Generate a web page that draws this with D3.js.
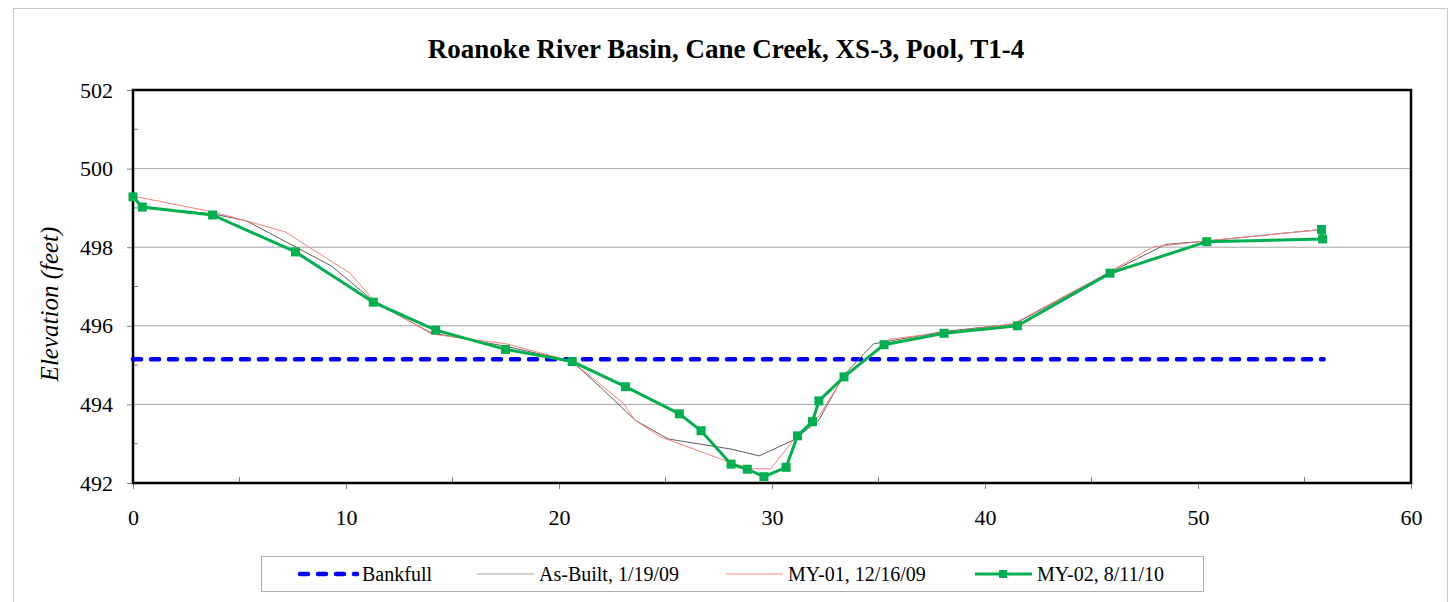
<!DOCTYPE html>
<meta charset="utf-8">
<script src="https://cdn.jsdelivr.net/npm/d3@7"></script>
<style>
  body { margin: 0; background: #fff; }
  text { font-family: "Liberation Serif", "Times New Roman", serif; fill: #000; }
</style>
<div id="chart"></div>
<script>
// ---- data ----
var title = "Roanoke River Basin, Cane Creek, XS-3, Pool, T1-4";
var xTicks = [0, 10, 20, 30, 40, 50, 60];
var yTicks = [492, 494, 496, 498, 500, 502];

var bankfullX = [0, 55.9];
var bankfullY = [495.15, 495.15];

var asBuiltX = [0, 0.4, 3.74, 5.33, 9.32, 11.4, 14.0, 17.5, 20.6, 22.08, 23.57, 25.13, 28.11, 29.4, 31.0, 32.2, 33.38, 34.76, 38.0, 41.4, 45.87, 48.48, 50.41, 55.8];
var asBuiltY = [499.28, 499.0, 498.85, 498.67, 497.52, 496.58, 495.82, 495.48, 495.1, 494.37, 493.6, 493.12, 492.86, 492.69, 493.09, 493.6, 494.75, 495.54, 495.85, 496.05, 497.36, 498.07, 498.16, 498.45];

var my01X = [0, 3.74, 5.33, 7.14, 10.19, 11.28, 14.02, 17.54, 20.6, 23.02, 23.57, 24.74, 27.95, 29.05, 29.94, 31.0, 32.2, 33.38, 35.54, 41.33, 45.87, 47.9, 50.41, 55.8];
var my01Y = [499.3, 498.9, 498.67, 498.39, 497.34, 496.66, 495.79, 495.54, 495.1, 494.03, 493.6, 493.18, 492.54, 492.36, 492.36, 493.09, 493.7, 494.72, 495.66, 496.05, 497.38, 498.01, 498.16, 498.45];

var my02X = [0, 0.44, 3.74, 7.63, 11.28, 14.21, 17.49, 20.62, 23.12, 25.65, 26.67, 28.08, 28.84, 29.62, 30.66, 31.2, 31.9, 32.2, 33.38, 35.26, 38.08, 41.52, 45.87, 50.41, 55.85, 55.8];
var my02Y = [499.28, 499.02, 498.82, 497.88, 496.6, 495.89, 495.4, 495.09, 494.45, 493.76, 493.33, 492.48, 492.35, 492.16, 492.4, 493.2, 493.56, 494.09, 494.7, 495.52, 495.81, 496.0, 497.34, 498.14, 498.21, 498.45];

var seriesNames = ["Bankfull", "As-Built, 1/19/09", "MY-01, 12/16/09", "MY-02, 8/11/10"];

// ---- layout ----
var W = 1456, H = 602;
var margin = {top: 90, right: 45, bottom: 119, left: 133};
var width = W - margin.left - margin.right,
    height = H - margin.top - margin.bottom;

var svg = d3.select("#chart").append("svg")
    .attr("width", W).attr("height", H);

// outer chart border
svg.append("rect")
    .attr("x", 13.5).attr("y", 8.5)
    .attr("width", 1434).attr("height", 610)
    .attr("fill", "#fff").attr("stroke", "#c8c8c8");

svg.append("text")
    .attr("x", 726).attr("y", 58)
    .attr("text-anchor", "middle")
    .style("font-size", "27px").style("font-weight", "bold")
    .text(title);

var g = svg.append("g")
    .attr("transform", "translate(" + margin.left + "," + margin.top + ")");

var x = d3.scaleLinear().domain([0, 60]).range([0, width]);
var y = d3.scaleLinear().domain([492, 502]).range([height, 0]);

// gridlines
g.selectAll(".grid").data(yTicks.slice(1, -1)).enter().append("line")
    .attr("x1", 0).attr("x2", width)
    .attr("y1", function(d) { return y(d); }).attr("y2", function(d) { return y(d); })
    .attr("stroke", "#a6a6a6").attr("stroke-width", 1);

// minor ticks (inside)
var yMinor = d3.range(493, 502, 2);
g.selectAll(".ymin").data(yMinor).enter().append("line")
    .attr("x1", 0).attr("x2", 5)
    .attr("y1", function(d) { return y(d); }).attr("y2", function(d) { return y(d); })
    .attr("stroke", "#808080");
var xMinor = d3.range(5, 60, 10);
g.selectAll(".xmin").data(xMinor).enter().append("line")
    .attr("x1", function(d) { return x(d); }).attr("x2", function(d) { return x(d); })
    .attr("y1", height - 6).attr("y2", height)
    .attr("stroke", "#808080");

// axes
var yAxis = g.append("g")
    .call(d3.axisLeft(y).tickValues(yTicks).tickSize(6).tickSizeOuter(0).tickPadding(14));
var xAxis = g.append("g")
    .attr("transform", "translate(0," + height + ")")
    .call(d3.axisBottom(x).tickValues(xTicks).tickSize(6).tickSizeOuter(0).tickPadding(20));
[yAxis, xAxis].forEach(function(a) {
  a.select(".domain").remove();
  a.selectAll(".tick line").attr("stroke", "#808080");
  a.selectAll("text").style("font-size", "22px")
    .style("font-family", "'Liberation Serif', 'Times New Roman', serif");
});

// frame
g.append("rect")
    .attr("x", 0).attr("y", 0).attr("width", width).attr("height", height)
    .attr("fill", "none").attr("stroke", "#000").attr("stroke-width", 2.5);

// y label
svg.append("text")
    .attr("transform", "translate(58,304) rotate(-90)")
    .attr("text-anchor", "middle")
    .style("font-size", "25px").style("font-style", "italic")
    .text("Elevation (feet)");

var line = d3.line().x(function(d) { return x(d[0]); }).y(function(d) { return y(d[1]); });
function pairs(xs, ys) { return xs.map(function(v, i) { return [v, ys[i]]; }); }

g.append("path").datum(pairs(bankfullX, bankfullY))
    .attr("d", line).attr("fill", "none")
    .attr("stroke", "#0000ff").attr("stroke-width", 4.5)
    .attr("stroke-dasharray", "8,10").attr("stroke-linecap", "round");

g.append("path").datum(pairs(asBuiltX, asBuiltY))
    .attr("d", line).attr("fill", "none")
    .attr("stroke", "#606060").attr("stroke-width", 1);

g.append("path").datum(pairs(my01X, my01Y))
    .attr("d", line).attr("fill", "none")
    .attr("stroke", "#ff7f7f").attr("stroke-width", 1);

var my02 = pairs(my02X, my02Y);
g.append("path").datum(my02)
    .attr("d", line).attr("fill", "none")
    .attr("stroke", "#00b050").attr("stroke-width", 3);
g.selectAll(".mk").data(my02).enter().append("rect")
    .attr("x", function(d) { return x(d[0]) - 4.5; })
    .attr("y", function(d) { return y(d[1]) - 4.5; })
    .attr("width", 9).attr("height", 9)
    .attr("fill", "#00b050");

// legend
var legend = svg.append("g");
legend.append("rect")
    .attr("x", 261.5).attr("y", 556.5).attr("width", 942).attr("height", 35)
    .attr("fill", "#fff").attr("stroke", "#b0b0b0");
var legX = [300, 477, 726, 975];
var legStyles = [
  {stroke: "#0000ff", w: 4.5, dash: "8,10", cap: "round"},
  {stroke: "#a0a0a0", w: 1},
  {stroke: "#ffb0b0", w: 1.5},
  {stroke: "#00b050", w: 3, marker: true}
];
seriesNames.forEach(function(name, i) {
  var s = legStyles[i];
  var l = legend.append("line")
      .attr("x1", legX[i]).attr("x2", legX[i] + 57)
      .attr("y1", 574).attr("y2", 574)
      .attr("stroke", s.stroke).attr("stroke-width", s.w);
  if (s.dash) l.attr("stroke-dasharray", s.dash).attr("stroke-linecap", s.cap);
  if (s.marker) {
    legend.append("rect").attr("x", legX[i] + 24).attr("y", 570)
      .attr("width", 8).attr("height", 8).attr("fill", "#00b050");
  }
  legend.append("text")
      .attr("x", legX[i] + 62).attr("y", 581)
      .style("font-size", "20px")
      .text(name);
});
</script>
